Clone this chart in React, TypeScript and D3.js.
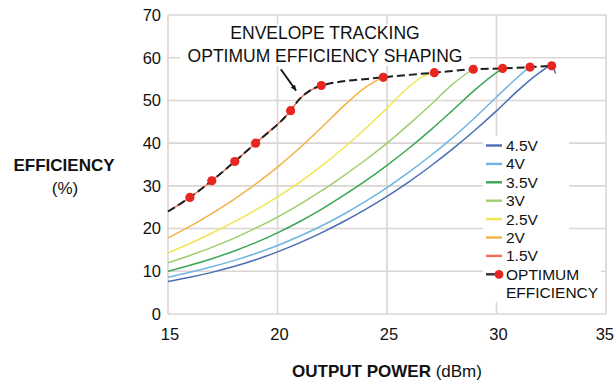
import React from "react";
import * as d3 from "d3";

const xTicks = [15, 20, 25, 30, 35];
const yTicks = [0, 10, 20, 30, 40, 50, 60, 70];

const seriesNames = ["4.5V", "4V", "3.5V", "3V", "2.5V", "2V", "1.5V"];
const seriesColors = ["#4a6db3", "#6fb5e3", "#3aa655", "#9fcd6c", "#efe64e", "#f2b245", "#f26d55"];

const x45 = [15, 16, 17, 18, 19, 20, 21, 22, 23, 24, 25, 26, 27, 28, 29, 30, 31, 32, 32.5, 32.7];
const y45 = [7.6, 8.6, 9.75, 11.1, 12.7, 14.55, 16.65, 19.0, 21.6, 24.45, 27.55, 30.95, 34.65, 38.65, 42.95, 47.55, 52.4, 56.6, 58.1, 56.3];
const x4 = [15, 16, 17, 18, 19, 20, 21, 22, 23, 24, 25, 26, 27, 28, 29, 30, 31, 31.5];
const y4 = [8.6, 9.75, 11.05, 12.5, 14.15, 16.05, 18.2, 20.6, 23.3, 26.3, 29.6, 33.2, 37.1, 41.3, 45.9, 50.8, 55.6, 57.8];
const x35 = [15, 16, 17, 18, 19, 20, 21, 22, 23, 24, 25, 26, 27, 28, 29, 30, 30.3];
const y35 = [10.0, 11.4, 12.95, 14.7, 16.7, 19.0, 21.6, 24.5, 27.7, 31.1, 34.8, 38.8, 43.1, 47.7, 52.4, 56.5, 57.5];
const x3 = [15, 16, 17, 18, 19, 20, 21, 22, 23, 24, 25, 26, 27, 28, 28.9];
const y3 = [12.0, 13.7, 15.6, 17.7, 20.1, 22.7, 25.6, 28.8, 32.3, 36.0, 40.0, 44.4, 49.0, 53.8, 57.3];
const x25 = [15, 16, 17, 18, 19, 20, 21, 22, 23, 24, 25, 26, 26.6, 27.1];
const y25 = [14.3, 16.5, 18.9, 21.5, 24.3, 27.4, 30.8, 34.6, 38.8, 43.3, 48.2, 53.2, 55.5, 56.5];
const x2 = [15, 16, 17, 18, 19, 20, 21, 22, 23, 24, 24.8];
const y2 = [17.8, 20.5, 23.5, 26.8, 30.4, 34.4, 38.8, 43.6, 48.6, 53.0, 55.4];
const x15 = [15, 16, 17, 18.05, 19, 20.6, 21, 21.4, 22];
const y15 = [24.0, 27.3, 31.2, 35.7, 40.0, 47.6, 50.3, 52.0, 53.5];

const optX = [15, 16, 17, 18.05, 19, 20.6, 21, 21.4, 22, 24.83, 27.16, 28.94, 30.28, 31.53, 32.52];
const optY = [24.0, 27.3, 31.2, 35.7, 40.0, 47.6, 50.3, 52.0, 53.5, 55.4, 56.5, 57.3, 57.5, 57.8, 58.1];
const dotX = [16, 17, 18.05, 19, 20.6, 22, 24.83, 27.16, 28.94, 30.28, 31.53, 32.52];
const dotY = [27.3, 31.2, 35.7, 40.0, 47.6, 53.5, 55.4, 56.5, 57.3, 57.5, 57.8, 58.1];

const seriesX = [x45, x4, x35, x3, x25, x2, x15];
const seriesY = [y45, y4, y35, y3, y25, y2, y15];

const annotationLines = ["ENVELOPE TRACKING", "OPTIMUM EFFICIENCY SHAPING"];
const arrowX = [20.15, 20.85];
const arrowY = [57.3, 52.3];

const W = 615;
const H = 381;
const FONT = "'Liberation Sans', Arial, Helvetica, sans-serif";

export default function App() {
  const x = d3.scaleLinear().domain([15, 35]).range([168, 606]);
  const y = d3.scaleLinear().domain([0, 70]).range([314, 15]);
  const line = d3
    .line<[number, number]>()
    .x((d) => x(d[0]))
    .y((d) => y(d[1]))
    .curve(d3.curveMonotoneX);

  const grid = "#dbd5d3";
  const drawOrder = [6, 5, 4, 3, 2, 1, 0];

  const ax1 = x(arrowX[0]);
  const ay1 = y(arrowY[0]);
  const ax2 = x(arrowX[1]);
  const ay2 = y(arrowY[1]);
  const ang = Math.atan2(ay2 - ay1, ax2 - ax1);
  const ah = 6;
  const head = [
    [ax2, ay2],
    [ax2 - ah * Math.cos(ang - 0.45), ay2 - ah * Math.sin(ang - 0.45)],
    [ax2 - ah * Math.cos(ang + 0.45), ay2 - ah * Math.sin(ang + 0.45)],
  ];

  const legX = 483;
  const legY0 = 145.5;
  const legStep = 18.4;

  return (
    <svg
      width={W}
      height={H}
      style={{ position: "absolute", left: 0, top: 0, display: "block", background: "#fff" }}
      fontFamily={FONT}
    >
      <rect x={0} y={0} width={W} height={H} fill="#fff" />
      {/* grid */}
      {yTicks.map((t) => (
        <line key={"gy" + t} x1={x(15)} x2={x(35)} y1={y(t)} y2={y(t)} stroke={grid} strokeWidth={1.6} />
      ))}
      {xTicks.map((t) => (
        <line key={"gx" + t} x1={x(t)} x2={x(t)} y1={y(0)} y2={y(70)} stroke={grid} strokeWidth={1.6} />
      ))}

      {/* annotation background */}
      <rect x={180} y={24} width={289} height={42} fill="#fff" />

      {/* series */}
      {drawOrder.map((i) => (
        <path
          key={seriesNames[i]}
          d={line(seriesX[i].map((v, k) => [v, seriesY[i][k]] as [number, number])) || ""}
          fill="none"
          stroke={seriesColors[i]}
          strokeWidth={1.5}
        />
      ))}
      <path
        d={line(optX.map((v, k) => [v, optY[k]] as [number, number])) || ""}
        fill="none"
        stroke="#1e1e1e"
        strokeWidth={2}
        strokeDasharray="8,4"
      />
      {dotX.map((v, k) => (
        <circle key={"d" + k} cx={x(v)} cy={y(dotY[k])} r={4.6} fill="#e8251f" />
      ))}

      {/* annotation */}
      {annotationLines.map((s, k) => (
        <text
          key={s}
          x={x(22.17)}
          y={38.5 + k * 23}
          textAnchor="middle"
          fontSize={17.5}
          fill="#111"
        >
          {s}
        </text>
      ))}
      <line x1={ax1} y1={ay1} x2={ax2} y2={ay2} stroke="#111" strokeWidth={1.8} />
      <polygon points={head.map((p) => p.join(",")).join(" ")} fill="#111" />

      {/* legend */}
      <rect x={legX} y={136} width={86} height={128} fill="#fff" />
      <rect x={legX} y={263} width={118} height={39} fill="#fff" />
      {seriesNames.map((n, i) => (
        <g key={"l" + n}>
          <line
            x1={legX + 3}
            x2={legX + 19}
            y1={legY0 + i * legStep}
            y2={legY0 + i * legStep}
            stroke={seriesColors[i]}
            strokeWidth={2.4}
          />
          <text x={legX + 23} y={legY0 + i * legStep + 5.5} fontSize={15.5} fill="#111">
            {n}
          </text>
        </g>
      ))}
      <line
        x1={legX + 3}
        x2={legX + 15}
        y1={legY0 + 7 * legStep}
        y2={legY0 + 7 * legStep}
        stroke="#333"
        strokeWidth={2.4}
      />
      <circle cx={legX + 16} cy={legY0 + 7 * legStep} r={4.4} fill="#e8251f" />
      <text x={legX + 23} y={legY0 + 7 * legStep + 5.5} fontSize={15.5} fill="#111">
        OPTIMUM
      </text>
      <text x={legX + 23} y={legY0 + 8 * legStep + 5.5} fontSize={15.5} fill="#111">
        EFFICIENCY
      </text>

      {/* ticks */}
      {yTicks.map((t) => (
        <text key={"ty" + t} x={161} y={y(t) + 5.8} textAnchor="end" fontSize={16.5} fill="#111">
          {t}
        </text>
      ))}
      {xTicks.map((t, i) =>
        i === xTicks.length - 1 ? (
          <text key={"tx" + t} x={614} y={340} textAnchor="end" fontSize={16.5} fill="#111">
            {t}
          </text>
        ) : (
          <text key={"tx" + t} x={x(t) + 2} y={340} textAnchor="middle" fontSize={16.5} fill="#111">
            {t}
          </text>
        )
      )}

      {/* axis titles */}
      <text x={64} y={170.5} textAnchor="middle" fontSize={17} fontWeight="bold" fill="#111">
        EFFICIENCY
      </text>
      <text x={65} y={194} textAnchor="middle" fontSize={17} fill="#111">
        (%)
      </text>
      <text x={387} y={377} textAnchor="middle" fontSize={17} fill="#111">
        <tspan fontWeight="bold">OUTPUT POWER</tspan>
        <tspan> (dBm)</tspan>
      </text>
    </svg>
  );
}
